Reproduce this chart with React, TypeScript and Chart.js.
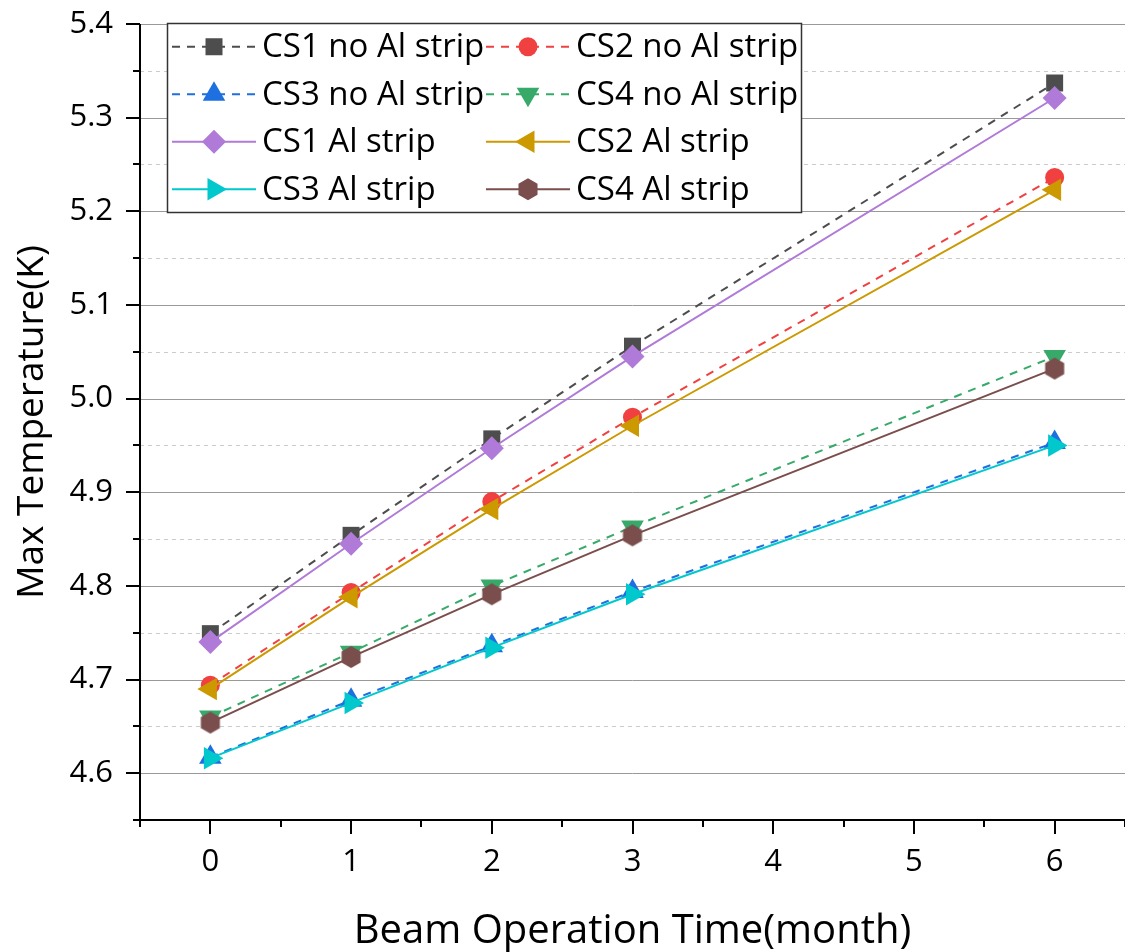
import React, { useEffect, useRef } from 'react';
import { Chart, registerables } from 'chart.js';

Chart.register(...registerables);

// ---- data ----
const months = [0, 1, 2, 3, 6];
const seriesNames = [
  'CS1 no Al strip', 'CS2 no Al strip',
  'CS3 no Al strip', 'CS4 no Al strip',
  'CS1 Al strip', 'CS2 Al strip',
  'CS3 Al strip', 'CS4 Al strip',
];
const cs1NoAl = [4.749, 4.854, 4.957, 5.056, 5.337];
const cs2NoAl = [4.694, 4.793, 4.890, 4.980, 5.236];
const cs3NoAl = [4.617, 4.678, 4.736, 4.794, 4.953];
const cs4NoAl = [4.660, 4.729, 4.800, 4.863, 5.045];
const cs1Al = [4.740, 4.845, 4.947, 5.045, 5.321];
const cs2Al = [4.690, 4.788, 4.882, 4.971, 5.223];
const cs3Al = [4.616, 4.675, 4.734, 4.791, 4.950];
const cs4Al = [4.654, 4.724, 4.791, 4.854, 5.032];
const seriesValues = [cs1NoAl, cs2NoAl, cs3NoAl, cs4NoAl, cs1Al, cs2Al, cs3Al, cs4Al];

const xTickValues = [0, 1, 2, 3, 4, 5, 6];
const xTickLabels = ['0', '1', '2', '3', '4', '5', '6'];
const xMinorTicks = [-0.5, 0.5, 1.5, 2.5, 3.5, 4.5, 5.5, 6.5];
const yTickValues = [4.6, 4.7, 4.8, 4.9, 5.0, 5.1, 5.2, 5.3, 5.4];
const yTickLabels = ['4.6', '4.7', '4.8', '4.9', '5.0', '5.1', '5.2', '5.3', '5.4'];
const yMinorTicks = [4.55, 4.65, 4.75, 4.85, 4.95, 5.05, 5.15, 5.25, 5.35];

const xTitle = 'Beam Operation Time(month)';
const yTitle = 'Max Temperature(K)';

// ---- styles ----
const FONT = 'Open Sans';
const colors = ['#4d4d4d', '#f04040', '#1e6fe0', '#37aa6a', '#b07ad8', '#cc9900', '#00c8cc', '#7a4e4c'];
const markerKinds = ['rect', 'circle', 'up', 'down', 'diamond', 'left', 'right', 'hex'];
const dashedSeries = [true, true, true, true, false, false, false, false];

function drawMarker(ctx: CanvasRenderingContext2D, kind: string, x: number, y: number, color: string) {
  ctx.save();
  ctx.fillStyle = color;
  ctx.beginPath();
  const tri = (rot: number, r: number) => {
    for (let k = 0; k < 3; k++) {
      const a = rot + (k * 2 * Math.PI) / 3;
      const px = x + Math.sin(a) * r;
      const py = y - Math.cos(a) * r;
      if (k === 0) ctx.moveTo(px, py); else ctx.lineTo(px, py);
    }
    ctx.closePath();
  };
  if (kind === 'rect') {
    ctx.rect(x - 8.5, y - 8.5, 17, 17);
  } else if (kind === 'circle') {
    ctx.arc(x, y, 9.5, 0, Math.PI * 2);
  } else if (kind === 'up') {
    tri(0, 13);
  } else if (kind === 'down') {
    tri(Math.PI, 13);
  } else if (kind === 'left') {
    tri(-Math.PI / 2, 13);
  } else if (kind === 'right') {
    tri(Math.PI / 2, 13);
  } else if (kind === 'diamond') {
    ctx.moveTo(x, y - 12); ctx.lineTo(x + 12, y); ctx.lineTo(x, y + 12); ctx.lineTo(x - 12, y); ctx.closePath();
  } else if (kind === 'hex') {
    for (let k = 0; k < 6; k++) {
      const a = -Math.PI / 2 + (k * Math.PI) / 3;
      const px = x + Math.cos(a) * 11;
      const py = y + Math.sin(a) * 11;
      if (k === 0) ctx.moveTo(px, py); else ctx.lineTo(px, py);
    }
    ctx.closePath();
  }
  ctx.fill();
  ctx.restore();
}

function makeHexCanvas(color: string): HTMLCanvasElement {
  const c = document.createElement('canvas');
  c.width = 24;
  c.height = 24;
  const cx = c.getContext('2d') as CanvasRenderingContext2D;
  drawMarker(cx, 'hex', 12, 12, color);
  return c;
}

const gridPlugin = {
  id: 'gridDecor',
  beforeDatasetsDraw(chart: any) {
    const { ctx, chartArea, scales } = chart;
    const { left, right } = chartArea;
    const y = scales.y;
    ctx.save();
    ctx.lineWidth = 1;
    ctx.strokeStyle = '#cccccc';
    ctx.setLineDash([4, 4]);
    yMinorTicks.forEach((v) => {
      if (v <= y.min + 1e-9) return;
      const py = Math.round(y.getPixelForValue(v)) + 0.5;
      ctx.beginPath(); ctx.moveTo(left, py); ctx.lineTo(right, py); ctx.stroke();
    });
    ctx.setLineDash([]);
    ctx.strokeStyle = '#999999';
    yTickValues.forEach((v) => {
      const py = Math.round(y.getPixelForValue(v)) + 0.5;
      ctx.beginPath(); ctx.moveTo(left, py); ctx.lineTo(right, py); ctx.stroke();
    });
    ctx.restore();
  },
  afterDatasetsDraw(chart: any) {
    const { ctx, chartArea, scales } = chart;
    const { left, right, top, bottom } = chartArea;
    const x = scales.x;
    const y = scales.y;
    ctx.save();
    ctx.strokeStyle = '#000';
    ctx.lineWidth = 2;
    ctx.beginPath();
    ctx.moveTo(left, top); ctx.lineTo(left, bottom + 1);
    ctx.moveTo(left - 1, bottom); ctx.lineTo(right, bottom);
    ctx.stroke();
    ctx.beginPath();
    yTickValues.forEach((v) => {
      const py = Math.round(y.getPixelForValue(v));
      ctx.moveTo(left - 14, py); ctx.lineTo(left, py);
    });
    yMinorTicks.forEach((v) => {
      const py = Math.round(y.getPixelForValue(v));
      ctx.moveTo(left - 7, py); ctx.lineTo(left, py);
    });
    xTickValues.forEach((v) => {
      const px = Math.round(x.getPixelForValue(v));
      ctx.moveTo(px, bottom); ctx.lineTo(px, bottom + 14);
    });
    xMinorTicks.forEach((v) => {
      const px = Math.round(x.getPixelForValue(v));
      ctx.moveTo(px, bottom); ctx.lineTo(px, bottom + 7);
    });
    ctx.stroke();
    ctx.restore();
  },
  afterDraw(chart: any) {
    const ctx: CanvasRenderingContext2D = chart.ctx;
    const boxL = 167, boxT = 23, boxR = 802, boxB = 213;
    ctx.save();
    ctx.fillStyle = '#fff';
    ctx.fillRect(boxL, boxT, boxR - boxL, boxB - boxT);
    ctx.strokeStyle = '#333';
    ctx.lineWidth = 1.5;
    ctx.strokeRect(boxL + 0.5, boxT + 0.5, boxR - boxL - 1, boxB - boxT - 1);
    const colX = [172, 486];
    const rowH = (boxB - boxT) / 4;
    seriesNames.forEach((name, i) => {
      const row = Math.floor(i / 2);
      const col = i % 2;
      const cy = boxT + rowH * (row + 0.5);
      const x0 = colX[col];
      ctx.save();
      ctx.strokeStyle = colors[i];
      ctx.lineWidth = 2;
      ctx.setLineDash(dashedSeries[i] ? [8, 7] : []);
      ctx.beginPath();
      ctx.moveTo(x0, cy); ctx.lineTo(x0 + 84, cy);
      ctx.stroke();
      ctx.restore();
      drawMarker(ctx, markerKinds[i], x0 + 42, cy, colors[i]);
      ctx.fillStyle = '#000';
      ctx.font = `33px "${FONT}"`;
      ctx.textBaseline = 'middle';
      ctx.textAlign = 'left';
      ctx.fillText(name, x0 + 90, cy + 1);
    });
    ctx.restore();
  },
};

export default function App() {
  const ref = useRef<HTMLCanvasElement | null>(null);
  useEffect(() => {
    if (!ref.current) return;
    const hex = makeHexCanvas(colors[7]);
    const pointStyles: any[] = ['rect', 'circle', 'triangle', 'triangle', 'rectRot', 'triangle', 'triangle', hex];
    const rotations = [0, 0, 0, 180, 0, -90, 90, 0];
    const radii = [12, 9.5, 13, 13, 12, 13, 13, 11];
    const datasets = seriesNames.map((name, i) => ({
      label: name,
      data: months.map((m, j) => ({ x: m, y: seriesValues[i][j] })),
      borderColor: colors[i],
      backgroundColor: colors[i],
      borderWidth: 2,
      borderDash: dashedSeries[i] ? [8, 7] : [],
      pointStyle: pointStyles[i],
      pointRotation: rotations[i],
      pointRadius: radii[i],
      pointBorderWidth: 0,
      pointBackgroundColor: colors[i],
      pointBorderColor: colors[i],
      tension: 0,
      order: dashedSeries[i] ? 1 : 0,
    }));
    const chart = new Chart(ref.current, {
      type: 'line',
      data: { datasets },
      options: {
        animation: false,
        responsive: false,
        devicePixelRatio: 1,
        layout: { autoPadding: false, padding: { top: 24, left: 0, right: 0, bottom: 0 } },
        plugins: { legend: { display: false }, tooltip: { enabled: false } },
        scales: {
          x: {
            type: 'linear',
            min: -0.5,
            max: 6.5,
            grid: { display: false, drawTicks: false },
            border: { display: false },
            afterBuildTicks: (s: any) => { s.ticks = xTickValues.map((v) => ({ value: v })); },
            afterFit: (s: any) => { s.height = 132; s.paddingLeft = 0; s.paddingRight = 0; },
            ticks: {
              autoSkip: false,
              maxRotation: 0,
              padding: 24,
              color: '#000',
              font: { family: FONT, size: 31 },
              callback: (_v: any, i: number) => xTickLabels[i],
            },
            title: {
              display: true,
              text: xTitle,
              color: '#000',
              font: { family: FONT, size: 40, lineHeight: 1 },
              padding: { top: 0, bottom: 0 },
            },
          },
          y: {
            type: 'linear',
            min: 4.55,
            max: 5.4,
            grid: { display: false, drawTicks: false },
            border: { display: false },
            afterBuildTicks: (s: any) => { s.ticks = yTickValues.map((v) => ({ value: v })); },
            afterFit: (s: any) => { s.width = 140; s.paddingTop = 0; s.paddingBottom = 0; },
            ticks: {
              autoSkip: false,
              padding: 27,
              color: '#000',
              font: { family: FONT, size: 31 },
              callback: (_v: any, i: number) => yTickLabels[i],
            },
            title: {
              display: true,
              text: yTitle,
              color: '#000',
              font: { family: FONT, size: 37, lineHeight: 1 },
              padding: { top: 14, bottom: 0 },
            },
          },
        },
      },
      plugins: [gridPlugin],
    } as any);
    return () => chart.destroy();
  }, []);
  return (
    <div style={{ position: 'absolute', left: 0, top: 0, width: 1125, height: 952, background: '#fff' }}>
      <canvas ref={ref} width={1125} height={952} style={{ display: 'block' }} />
    </div>
  );
}
